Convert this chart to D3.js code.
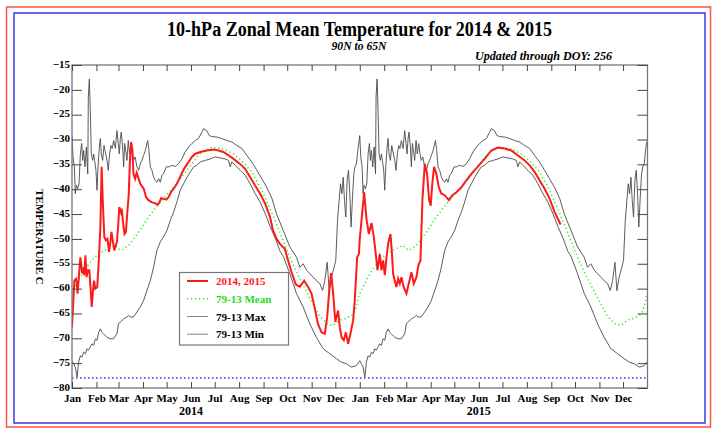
<!DOCTYPE html>
<html><head><meta charset="utf-8">
<script src="https://cdn.jsdelivr.net/npm/d3@7"></script>
<style>
body{margin:0;background:#fff}
svg{display:block}
text{font-family:"Liberation Serif","Times New Roman",serif;font-weight:bold}
</style>
</head><body>
<svg id="c" width="720" height="432"></svg>
<script>
// ---------------- DATA ----------------
const titleText = "10-hPa Zonal Mean Temperature for 2014 & 2015";
const subtitleText = "90N to 65N";
const updatedText = "Updated through DOY: 256";
const yAxisTitle = "TEMPERATURE C";
const monthLabels = ["Jan","Feb","Mar","Apr","May","Jun","Jul","Aug","Sep","Oct","Nov","Dec"];
const yearLabels = [2014, 2015];
const yTickValues = [-15,-20,-25,-30,-35,-40,-45,-50,-55,-60,-65,-70,-75,-80];
const pscThreshold = -78;
const legendLabels = ["2014, 2015","79-13 Mean","79-13 Max","79-13 Min"];

// climatology (1979-2013), [day of year (0-based), temperature C]
const climMean = [[0,-61],[8,-58.4],[18,-55.7],[27,-54],[35,-52.8],[42,-52.3],[51,-51.6],[55,-51.3],[59,-52],[63,-52.3],[72,-51.3],[80,-49.6],[89,-47.6],[97,-45.6],[110,-43],[123,-40.6],[139,-37.6],[152,-34.9],[160,-33.3],[165,-32.5],[177,-31.6],[190,-31.8],[203,-32.7],[215,-34.2],[228,-36.5],[241,-40.3],[253,-44.6],[264,-48.8],[277,-54],[289,-58],[302,-62],[314,-65.5],[325,-67.3],[332,-67.3],[340,-66.3],[347,-66],[355,-65.4],[359,-64.5],[361,-63.5],[364,-61.3]];

const climMax = [[0,-29.2],[1.3,-33.5],[3,-35.5],[4.2,-40.9],[5.5,-39.2],[7.2,-39.9],[8.9,-38.9],[10.6,-32.9],[12.3,-30.8],[13.5,-34.2],[14.8,-32.2],[16.5,-35.5],[18.2,-31.5],[20,-36.9],[20.7,-21.4],[22,-17.8],[23.2,-24.1],[24.5,-32.9],[26.2,-34.2],[27.5,-32.9],[28.7,-34.2],[30.4,-36.2],[31.7,-40.2],[33,-35.5],[34.6,-31.8],[35.9,-29.8],[37.2,-32.9],[38.9,-34.2],[40.6,-31.2],[42.2,-32.5],[44.4,-34.2],[46,-36.2],[47.7,-32.9],[49.4,-31.2],[51,-31.8],[52.8,-30.2],[55,-31.8],[57,-28.2],[58.7,-30.8],[60,-32.9],[61.3,-29.8],[62.5,-28.5],[64.2,-31.5],[65.5,-35.5],[66.8,-30.8],[68.4,-32.5],[69.7,-34.2],[71.4,-30.2],[73,-32.9],[74.8,-30.8],[76.5,-32.9],[78,-34.2],[80,-33.5],[82.4,-35.5],[84.5,-36.2],[86.6,-34.9],[88.7,-34.2],[90.8,-33.2],[93,-32.2],[96,-30.2],[97.6,-32.2],[99.3,-35.5],[101.4,-36.2],[103.5,-37.5],[105.6,-38.2],[107.7,-38.6],[110,-37.9],[112,-38.6],[114,-37.2],[116,-36.9],[119.6,-35.5],[122.5,-35.5],[126.7,-35.2],[131,-35.4],[135,-34.9],[139.4,-33.9],[143.6,-32.5],[148,-31.5],[152,-30.8],[156.3,-30.2],[160.5,-29.8],[164.8,-28.5],[166.9,-27.8],[171,-28.2],[174,-29.2],[177.4,-29.4],[183.8,-29.5],[190,-29.8],[196.5,-30.2],[202.8,-30.5],[209,-31.2],[215.5,-31.8],[221.8,-33.2],[228,-34.5],[234.5,-36.2],[240.8,-37.9],[247,-39.6],[253.5,-41.8],[259.5,-45],[268,-48.3],[276.3,-51.6],[284.8,-53.7],[289,-55.7],[293.2,-55],[297.5,-56.3],[301.7,-57],[306,-57.7],[310,-58.4],[314.4,-59],[317.8,-60.4],[320.7,-58.4],[323.7,-54.7],[326.2,-60.4],[329,-57.7],[332,-56],[334.6,-54.3],[336.8,-46.3],[338.9,-42.2],[340.6,-38.9],[342.3,-40.9],[344,-37.6],[345.6,-42.2],[347.3,-45.6],[349,-38.2],[350.7,-36.2],[352.4,-40.9],[354,-47.6],[355.8,-41.6],[357.5,-36.9],[359,-35.5],[360.8,-34.9],[362.5,-32.2],[364,-30.5]];

const climMin = [[0,-74.5],[2,-75.1],[4.2,-75.8],[6.5,-77.8],[8.4,-74.8],[10.6,-73.5],[12.7,-73.8],[14.8,-72.8],[17,-73.1],[19,-72.1],[21,-72.4],[23,-71.8],[25.3,-71.1],[27.5,-71.4],[29.6,-70.1],[31.7,-70.4],[33.8,-68.8],[36,-68.1],[38,-68.8],[40,-69.1],[44.4,-69.8],[48.6,-70.1],[52.8,-70.1],[57,-69.1],[59,-67.1],[61.3,-66.7],[65.5,-66.1],[69.7,-65.7],[71.8,-65.4],[74,-65.7],[78,-65.7],[82.4,-64.7],[86.6,-63.7],[90.8,-62.4],[95,-60.4],[99.3,-58.4],[103.5,-55.7],[107.7,-52.3],[112,-50.6],[116,-49.6],[120.4,-48.3],[124.6,-46.3],[128.9,-44.6],[133,-42.6],[137.3,-40.2],[141.5,-38.9],[145.8,-37.6],[150,-36.5],[154.2,-35.5],[158.4,-35.2],[162.7,-34.5],[169,-34.2],[175.3,-33.9],[181.7,-33.5],[188,-33.7],[194.3,-33.9],[198.6,-34.2],[200.7,-35.5],[202.8,-34.5],[207,-35.2],[213.4,-36.2],[219.7,-37.2],[226,-38.9],[232.4,-40.9],[238.7,-42.6],[245,-44.9],[251.4,-47.5],[257.7,-49.8],[264,-52.5],[268,-53.5],[276.3,-57],[284.8,-61],[293.2,-63.7],[301.7,-67.1],[310,-69.8],[318.6,-72.1],[327,-73.1],[335.5,-74.1],[341.8,-74.8],[348,-75.1],[354.5,-75.8],[360.8,-75.5],[364,-74.8]];

// observed, [day of year (0-based), temperature C]
const obs2014 = [[0,-67.8],[3,-58.4],[5,-58],[6,-58.7],[7,-61],[9,-57],[10.6,-53.7],[13,-57],[14,-55.7],[15.6,-57.3],[17,-53.3],[18.5,-57.7],[20,-56.3],[22,-56.3],[24,-61],[25,-63.7],[26.6,-60.4],[28,-58.4],[29.5,-60],[32,-59.7],[34,-54.3],[36,-47.6],[37.6,-35.5],[39,-42.2],[41,-49.6],[43,-50.3],[45,-50],[47,-52.6],[49,-50.3],[50,-48.6],[52,-50.6],[53.6,-52.3],[55.5,-51.3],[57,-50.6],[58.7,-47],[60,-43.6],[62,-44.6],[63,-43.9],[65,-47],[66.7,-49],[68.4,-48.6],[70,-45],[72,-40.9],[73.5,-34.2],[75,-30.5],[76.7,-32.2],[78,-36.9],[80,-37.9],[82,-36.7],[84.5,-37.9],[86.6,-38.9],[91,-39.9],[94,-41.6],[97,-42.2],[101,-42.6],[105,-42.8],[108.6,-43.1],[111,-42.6],[113,-41.8],[116,-41.9],[119.6,-42.1],[122.5,-41.6],[125.5,-40.6],[129,-39.9],[133,-38.9],[137,-37.6],[142,-35.9],[148,-34.5],[152,-33.5],[156,-32.9],[162.7,-32.5],[171,-32.2],[179.5,-32],[186,-32.2],[192,-32.5],[198.6,-33.2],[205,-33.9],[213,-34.9],[219.7,-35.9],[226,-37.6],[232,-39.2],[238.7,-40.9],[245,-42.9],[251,-45.5],[255,-48.3],[259.5,-50],[263.7,-51],[270,-52],[274,-54.3],[278.5,-56.7],[284,-59.2],[289,-59.6],[294.5,-58.4],[299.6,-59.7],[303.8,-61],[308,-64],[312,-67.1],[316.5,-68.8],[320.7,-69.1],[323.7,-65.7],[326,-61],[328.7,-56.9],[331.3,-61],[334,-66.7],[337.6,-64.4],[339.7,-67.8],[342,-69.8],[344.8,-70.4],[347.3,-68.8],[350.3,-71.1],[353.2,-69.1],[356.6,-66.4],[358.7,-62.4],[361.7,-53.7],[364,-53]];

const obs2015 = [[0,-50],[2.2,-46.3],[5.6,-40.6],[8.5,-45.9],[11.5,-49],[14.9,-46.8],[17.8,-49.6],[20.3,-53],[22.5,-56.3],[25.4,-53],[27.5,-56.3],[29.6,-54.3],[31.8,-57.3],[33.9,-53.7],[36.4,-50.6],[39,-49],[40.6,-52.3],[42.3,-57],[44.4,-58.4],[46.5,-59.7],[48.7,-58],[50.8,-59],[52.9,-57.7],[55.8,-59.7],[59.2,-61],[62.6,-58.7],[65.6,-56.7],[68.5,-59],[71.9,-57.7],[74.4,-55.3],[77,-54.3],[79.5,-42.2],[82.5,-34.9],[85.4,-36.9],[88,-42.2],[90,-43.3],[92,-38.9],[94.3,-35.5],[97.2,-36.9],[100.2,-39.6],[103.6,-40.9],[107.8,-41.2],[112.9,-42.2],[117.5,-41.2],[122.6,-40.6],[129,-39.6],[135.3,-38.2],[141.6,-36.9],[150,-35.4],[158.4,-33.9],[166.9,-32.2],[175.3,-31.6],[183.8,-31.8],[192.2,-32.2],[200.7,-33.2],[209.1,-34.2],[215.5,-35.2],[221.8,-36.5],[228.1,-38.2],[234.5,-39.9],[240.8,-41.9],[247.2,-44.6],[254.8,-47.1]];

// ---------------- CHART ----------------
const svg = d3.select("#c");
const P = {left:72, right:647.5, top:65, bottom:388};
const start = Date.UTC(2014,0,1);
const yearDays = yearLabels.map(yr => d3.utcDay.count(new Date(start), new Date(Date.UTC(yr,0,1))));
const totalDays = d3.utcDay.count(new Date(start), new Date(Date.UTC(yearLabels[1]+1,0,1)));
const x = d3.scaleLinear().domain([0,totalDays]).range([P.left,P.right]);
const y = d3.scaleLinear().domain([-80,-15]).range([P.bottom,P.top]);

// outer borders
svg.append("rect").attr("x",6.5).attr("y",7).attr("width",704).attr("height",420)
  .attr("fill","none").attr("stroke","#ff5050").attr("stroke-width",1.5);
svg.append("rect").attr("x",14).attr("y",13).attr("width",691).attr("height",410)
  .attr("fill","none").attr("stroke","#3a3ae0").attr("stroke-width",1.5);

// titles
svg.append("text").attr("x",359.5).attr("y",36).attr("text-anchor","middle")
  .attr("font-size",20).attr("textLength",385).attr("lengthAdjust","spacingAndGlyphs").text(titleText);
svg.append("text").attr("x",359).attr("y",49.5).attr("text-anchor","middle")
  .attr("font-size",11.5).attr("font-style","italic").attr("textLength",55).attr("lengthAdjust","spacingAndGlyphs").text(subtitleText);
svg.append("text").attr("x",475).attr("y",60).attr("font-size",13)
  .attr("font-style","italic").attr("textLength",137).attr("lengthAdjust","spacingAndGlyphs").text(updatedText);

// y axis title
svg.append("text").attr("transform","translate(36,237) rotate(90)").attr("text-anchor","middle")
  .attr("font-size",11).text(yAxisTitle);

// clip
svg.append("clipPath").attr("id","plotclip").append("rect")
  .attr("x",P.left).attr("y",P.top).attr("width",P.right-P.left).attr("height",P.bottom-P.top);

const g = svg.append("g").attr("clip-path","url(#plotclip)");
const line = d3.line().x(d=>x(d[0])).y(d=>y(d[1]));
const twoYears = arr => yearDays.flatMap(off => arr.map(([d,v]) => [d+off, v]));

// PSC threshold line
g.append("line").attr("x1",P.left).attr("x2",P.right).attr("y1",y(pscThreshold)).attr("y2",y(pscThreshold))
  .attr("stroke","#3333ff").attr("stroke-width",1.5).attr("stroke-dasharray","1.5,2.5");

g.append("path").datum(twoYears(climMax)).attr("d",line).attr("fill","none").attr("stroke","#4a4a4a").attr("stroke-width",0.9);
g.append("path").datum(twoYears(climMin)).attr("d",line).attr("fill","none").attr("stroke","#4a4a4a").attr("stroke-width",0.9);
g.append("path").datum(twoYears(climMean)).attr("d",line).attr("fill","none").attr("stroke","#22ee22")
  .attr("stroke-width",1.5).attr("stroke-dasharray","1.2,2.8");
const obs = obs2014.map(([d,v])=>[d+yearDays[0],v]).concat(obs2015.map(([d,v])=>[d+yearDays[1],v]));
g.append("path").datum(obs).attr("d",line).attr("fill","none").attr("stroke","#ff1a1a").attr("stroke-width",2);

// frame
svg.append("rect").attr("x",P.left).attr("y",P.top).attr("width",P.right-P.left).attr("height",P.bottom-P.top)
  .attr("fill","none").attr("stroke","#777").attr("stroke-width",1.3);

// y ticks both sides
const yAxL = d3.axisLeft(y).tickValues(yTickValues).tickSize(-10).tickPadding(13).tickFormat(d3.format("d"));
const yl = svg.append("g").attr("transform",`translate(${P.left},0)`).call(yAxL);
const yAxR = d3.axisRight(y).tickValues(yTickValues).tickSize(-10).tickFormat("");
const yr = svg.append("g").attr("transform",`translate(${P.right},0)`).call(yAxR);

// month ticks
const monthTicks = [];
yearLabels.forEach(yrv => monthLabels.forEach((lab,i) => {
  monthTicks.push({d: d3.utcDay.count(new Date(start), new Date(Date.UTC(yrv,i,1))), lab});
}));
const tickVals = monthTicks.map(t=>t.d);
const labMap = new Map(monthTicks.map(t=>[t.d,t.lab]));
const xAxB = d3.axisBottom(x).tickValues(tickVals).tickSize(-6).tickPadding(5).tickFormat(d=>labMap.get(d));
const xb = svg.append("g").attr("transform",`translate(0,${P.bottom})`).call(xAxB);
const xAxT = d3.axisTop(x).tickValues(tickVals).tickSize(-6).tickFormat("");
const xt = svg.append("g").attr("transform",`translate(0,${P.top})`).call(xAxT);

[yl,yr,xb,xt].forEach(a=>{
  a.select(".domain").remove();
  a.selectAll(".tick line").attr("stroke","#444").attr("stroke-width",1);
  a.selectAll(".tick text").attr("fill","#000").attr("font-size",11)
    .attr("font-family","'Liberation Serif','Times New Roman',serif").attr("font-weight","bold");
});
yl.selectAll(".tick text").attr("x",-2).attr("dy","0.2em");
xb.selectAll(".tick text").attr("dy","0.8em");

// year labels centred under Jun
yearLabels.forEach((yrv,i)=>{
  const dJun = d3.utcDay.count(new Date(start), new Date(Date.UTC(yrv,5,1)));
  svg.append("text").attr("x",x(dJun)).attr("y",415).attr("text-anchor","middle").attr("font-size",12).text(yrv);
});

// legend
const L = svg.append("g");
L.append("rect").attr("x",179.5).attr("y",272.5).attr("width",109).attr("height",72.5)
  .attr("fill","#fff").attr("stroke","#777").attr("stroke-width",1.2);
const legStyles = [
  {c:"#ff1a1a", w:2, dash:null, tc:"#ff1a1a"},
  {c:"#22ee22", w:1.5, dash:"1.2,2.8", tc:"#22dd22"},
  {c:"#777", w:0.9, dash:null, tc:"#000"},
  {c:"#777", w:0.9, dash:null, tc:"#000"}
];
const rowsY = [281, 298.8, 316.5, 334.2];
legendLabels.forEach((lab,i)=>{
  const s = legStyles[i];
  L.append("line").attr("x1",187).attr("x2",208).attr("y1",rowsY[i]).attr("y2",rowsY[i])
    .attr("stroke",s.c).attr("stroke-width",s.w).attr("stroke-dasharray",s.dash);
  L.append("text").attr("x",216).attr("y",rowsY[i]+4).attr("font-size",11).attr("fill",s.tc).text(lab);
});
</script>
</body></html>
